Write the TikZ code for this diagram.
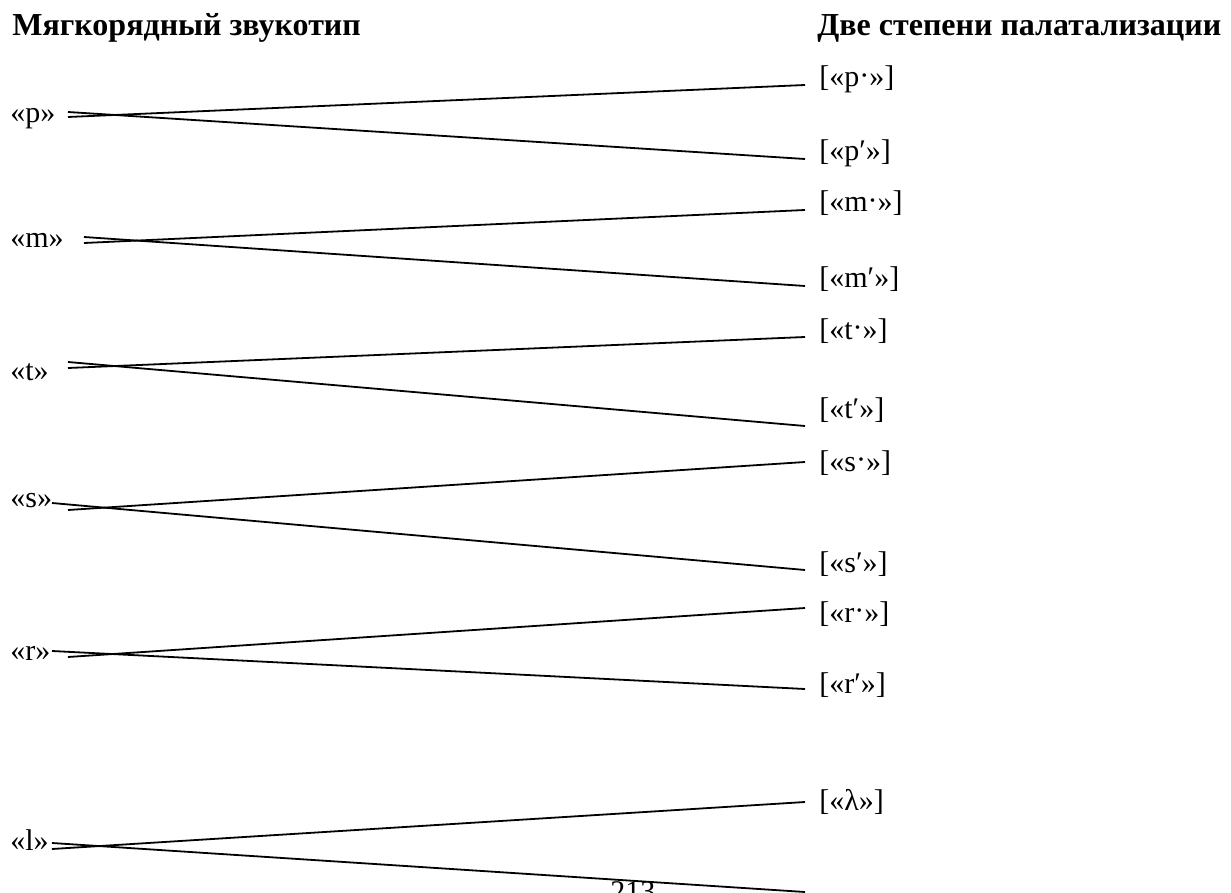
\documentclass[tikz,border=0pt]{standalone}
\usepackage{fontspec}
\setmainfont{Liberation Serif}
\begin{document}
\begin{tikzpicture}[x=0.5pt,y=-0.5pt,
  lbl/.style={anchor=base west,inner sep=0pt,font=\fontsize{15}{18}\selectfont},
  ttl/.style={anchor=base west,inner sep=0pt,font=\fontsize{16}{19}\selectfont\bfseries},
  link/.style={line width=0.9pt,black}]
\useasboundingbox (0,0) rectangle (1231,893);
\clip (0,0) rectangle (1231,893);
% titles
\node[ttl] (tl) at (12,36) {Мягкорядный звукотип};
\node[ttl] (tr) at (817,36) {Две степени палатализации};
% left labels
\node[lbl] (p) at (10,123) {«p»};
\node[lbl] (m) at (10,248) {«m»};
\node[lbl] (t) at (10,380) {«t»};
\node[lbl] (s) at (10,507) {«s»};
\node[lbl] (r) at (10,660) {«r»};
\node[lbl] (l) at (10,850) {«l»};
% right labels
\newcommand{\hdot}{\raisebox{0.06em}{·}}
\node[lbl] (p1) at (819,87) {[«p\hdot»]};
\node[lbl] (p2) at (819,161) {[«p′»]};
\node[lbl] (m1) at (819,212) {[«m\hdot»]};
\node[lbl] (m2) at (819,287) {[«m′»]};
\node[lbl] (t1) at (819,339) {[«t\hdot»]};
\node[lbl] (t2) at (819,418) {[«t′»]};
\node[lbl] (s1) at (819,471) {[«s\hdot»]};
\node[lbl] (s2) at (819,572) {[«s′»]};
\node[lbl] (r1) at (819,622) {[«r\hdot»]};
\node[lbl] (r2) at (819,693) {[«r′»]};
\node[lbl] (l1) at (819,810) {[«λ»]};
\node[lbl] (pg) at (610,901) {213};
% connector ends
\coordinate (pa) at (68,112); \coordinate (pb) at (68,117);
\coordinate (p1e) at (805,85); \coordinate (p2e) at (805,159);
\coordinate (ma) at (84,237); \coordinate (mb) at (84,243);
\coordinate (m1e) at (805,210); \coordinate (m2e) at (805,286);
\coordinate (ta) at (68,362); \coordinate (tb) at (68,368);
\coordinate (t1e) at (805,337); \coordinate (t2e) at (805,426);
\coordinate (sa) at (52,503); \coordinate (sb) at (68,510);
\coordinate (s1e) at (805,462); \coordinate (s2e) at (805,570);
\coordinate (ra) at (52,651); \coordinate (rb) at (68,657);
\coordinate (r1e) at (805,608); \coordinate (r2e) at (805,689);
\coordinate (la) at (52,843); \coordinate (lb) at (52,849);
\coordinate (l1e) at (805,802); \coordinate (l2e) at (805,892);
% connectors
\draw[link] (pa) -- (p2e); \draw[link] (pb) -- (p1e);
\draw[link] (ma) -- (m2e); \draw[link] (mb) -- (m1e);
\draw[link] (ta) -- (t2e); \draw[link] (tb) -- (t1e);
\draw[link] (sa) -- (s2e); \draw[link] (sb) -- (s1e);
\draw[link] (ra) -- (r2e); \draw[link] (rb) -- (r1e);
\draw[link] (la) -- (l2e); \draw[link] (lb) -- (l1e);
\end{tikzpicture}
\end{document}
